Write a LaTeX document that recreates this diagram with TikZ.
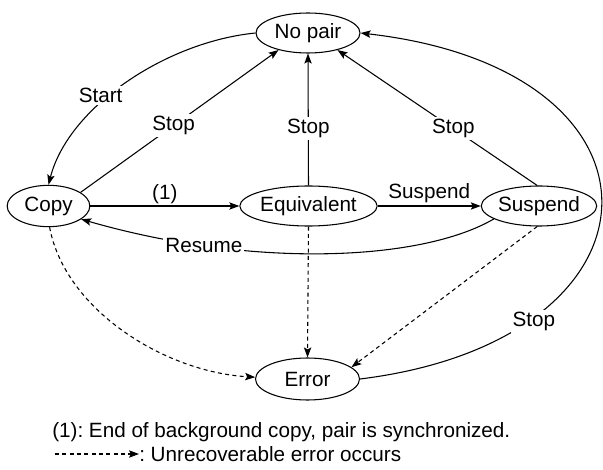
\documentclass[tikz,border=0pt]{standalone}
\usepackage{fontspec}
\setmainfont{Liberation Sans}
\usetikzlibrary{arrows.meta,shapes.geometric}
\begin{document}
\frenchspacing
\begin{tikzpicture}[x=0.75pt,y=-0.75pt,
  font=\fontsize{15.5}{18}\selectfont,
  state/.style={draw,ellipse,line width=0.8pt,inner sep=0pt,minimum height=30pt},
  conn/.style={line width=0.8pt,-{Stealth[length=7.5pt,width=5.5pt,inset=1.5pt]}},
  err/.style={conn,dash pattern=on 3pt off 2.5pt},
  lbl/.style={fill=white,inner sep=1.5pt}]
\useasboundingbox (0,0) rectangle (603,470);
\node[state,minimum width=78pt] (np) at (308,33) {No pair};
\node[state,minimum width=62pt,minimum height=31pt] (cp) at (48.5,206) {Copy};
\node[state,minimum width=103pt] (eq) at (308.5,206) {Equivalent};
\node[state,minimum width=76.5pt] (su) at (539,206) {Suspend};
\node[state,minimum width=78pt,minimum height=31.5pt] (er) at (307.5,379) {Error};

\draw[conn] (np.west) .. controls (165,42) and (68,108) .. node[lbl,pos=0.57,xshift=-7pt]{Start} (cp.north);
\draw[conn] (cp.23) -- node[lbl,pos=0.47]{Stop} (np.210);
\draw[conn] (eq.north) -- node[lbl,pos=0.43]{Stop} (np.south);
\draw[conn] (su.95) -- node[lbl,pos=0.42]{Stop} (np.-30);
\draw[conn] (er.east) .. controls (676,340) and (686,70) .. node[lbl,pos=0.25,xshift=-4pt,yshift=-6pt]{Stop} (np.east);
\draw[conn] (cp.east) -- node[above,yshift=-2pt]{(1)} (eq.west);
\draw[conn] (eq.east) -- node[above,yshift=-1.5pt]{Suspend} (su.west);
\draw[conn] (su.196) .. controls (420,262) and (250,268) .. node[lbl,pos=0.75,xshift=-2pt]{Resume} (cp.-22);

\draw[err] (cp.-87) .. controls (65,310) and (165,372) .. (er.178);
\draw[err] (eq.south) -- (er.north);
\draw[err] (su.-95) -- (er.15);

\node[anchor=west,inner sep=0pt] (leg1) at (52,432) {(1): End of background copy, pair is synchronized.};
\coordinate (la) at (55,454);
\node[anchor=west,inner sep=0pt] (leg2) at (139,454) {: Unrecoverable error occurs};
\draw[err] (la) -- (leg2.west);
\end{tikzpicture}
\end{document}
